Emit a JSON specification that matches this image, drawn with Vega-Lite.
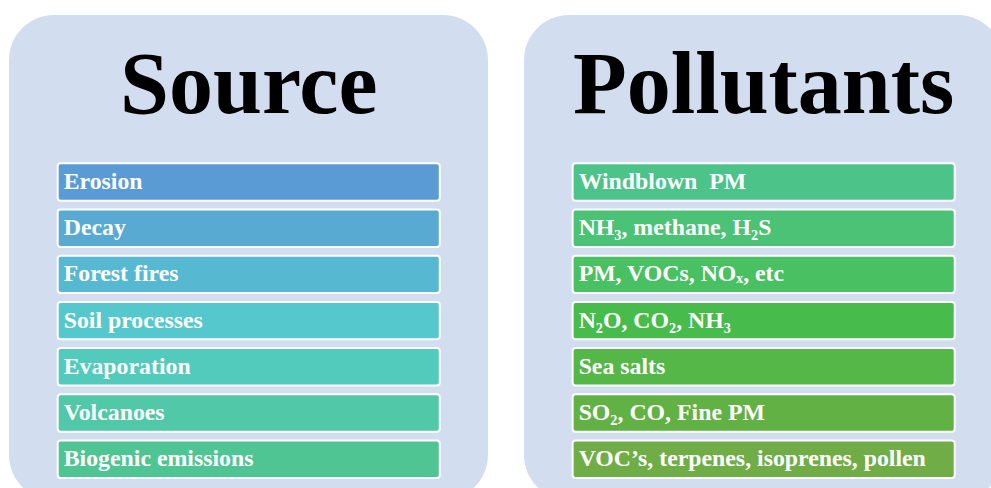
{
  "$schema": "https://vega.github.io/schema/vega-lite/v6.json",
  "autosize": {"type": "none"},
  "width": 991,
  "height": 488,
  "padding": 0,
  "background": "white",
  "config": {"view": {"stroke": null}},
  "datasets": {
    "panels": [
      {"column": "Source", "title": "Source"},
      {"column": "Pollutants", "title": "Pollutants"}
    ],
    "items": [
      {"column": "Source", "rank": 1, "label": "Erosion"},
      {"column": "Source", "rank": 2, "label": "Decay"},
      {"column": "Source", "rank": 3, "label": "Forest fires"},
      {"column": "Source", "rank": 4, "label": "Soil processes"},
      {"column": "Source", "rank": 5, "label": "Evaporation"},
      {"column": "Source", "rank": 6, "label": "Volcanoes"},
      {"column": "Source", "rank": 7, "label": "Biogenic emissions"},
      {"column": "Pollutants", "rank": 1, "label": "Windblown\u00a0 PM"},
      {"column": "Pollutants", "rank": 2, "label": "NH₃, methane, H₂S"},
      {"column": "Pollutants", "rank": 3, "label": "PM, VOCs, NOₓ, etc"},
      {"column": "Pollutants", "rank": 4, "label": "N₂O, CO₂, NH₃"},
      {"column": "Pollutants", "rank": 5, "label": "Sea salts"},
      {"column": "Pollutants", "rank": 6, "label": "SO₂, CO, Fine PM"},
      {"column": "Pollutants", "rank": 7, "label": "VOC’s, terpenes, isoprenes, pollen"}
    ]
  },
  "resolve": {"scale": {"x": "independent", "y": "independent", "color": "independent"}},
  "layer": [
    {
      "data": {"name": "panels"},
      "mark": {"type": "rect", "fill": "#D2DEEF", "cornerRadius": 45},
      "encoding": {
        "x": {"field": "column", "type": "nominal", "axis": null,
              "scale": {"type": "band", "domain": ["Source", "Pollutants"], "range": [9, 1003], "paddingInner": 0.0699, "paddingOuter": 0}},
        "y": {"datum": "panel", "type": "nominal", "axis": null,
              "scale": {"type": "band", "domain": ["panel"], "range": [15, 500], "paddingInner": 0, "paddingOuter": 0}}
      }
    },
    {
      "data": {"name": "panels"},
      "mark": {"type": "text", "font": "Liberation Serif", "fontWeight": "bold", "fontSize": 88, "color": "#000000", "align": "center", "baseline": "alphabetic"},
      "encoding": {
        "x": {"field": "column", "type": "nominal", "axis": null,
              "scale": {"type": "band", "domain": ["Source", "Pollutants"], "range": [57.7, 954.7], "paddingInner": 0.258, "paddingOuter": 0}},
        "y": {"datum": "title", "type": "nominal", "axis": null,
              "scale": {"type": "point", "domain": ["title"], "range": [113, 113]}},
        "text": {"field": "title"}
      }
    },
    {
      "data": {"name": "items"},
      "mark": {"type": "rect", "stroke": "white", "strokeWidth": 2, "cornerRadius": 3},
      "encoding": {
        "x": {"field": "column", "type": "nominal", "axis": null,
              "scale": {"type": "band", "domain": ["Source", "Pollutants"], "range": [57.7, 954.7], "paddingInner": 0.258, "paddingOuter": 0}},
        "y": {"field": "rank", "type": "ordinal", "axis": null,
              "scale": {"type": "band", "domain": [1, 2, 3, 4, 5, 6, 7], "range": [163.3, 477.9], "paddingInner": 0.19, "paddingOuter": 0}},
        "color": {"field": "label", "type": "nominal", "legend": null,
                  "scale": {
                    "domain": ["Erosion", "Decay", "Forest fires", "Soil processes", "Evaporation", "Volcanoes", "Biogenic emissions",
                               "Windblown\u00a0 PM", "NH₃, methane, H₂S", "PM, VOCs, NOₓ, etc", "N₂O, CO₂, NH₃", "Sea salts", "SO₂, CO, Fine PM", "VOC’s, terpenes, isoprenes, pollen"],
                    "range": ["#5B9BD5", "#58AAD3", "#56B9D1", "#55C8CE", "#52CBBD", "#51C8A8", "#4FC594",
                              "#4CC388", "#4BC276", "#49C062", "#47BB4C", "#55B747", "#62B145", "#70AD47"]
                  }}
      }
    },
    {
      "data": {"name": "items"},
      "mark": {"type": "text", "font": "Liberation Serif", "fontWeight": "bold", "fontSize": 23.8, "color": "white", "align": "left", "baseline": "middle", "dx": 6},
      "encoding": {
        "x": {"field": "column", "type": "nominal", "axis": null, "bandPosition": 0,
              "scale": {"type": "band", "domain": ["Source", "Pollutants"], "range": [57.7, 954.7], "paddingInner": 0.258, "paddingOuter": 0}},
        "y": {"field": "rank", "type": "ordinal", "axis": null, "bandPosition": 0.5,
              "scale": {"type": "band", "domain": [1, 2, 3, 4, 5, 6, 7], "range": [163.3, 477.9], "paddingInner": 0.19, "paddingOuter": 0}},
        "text": {"field": "label"}
      }
    }
  ]
}
